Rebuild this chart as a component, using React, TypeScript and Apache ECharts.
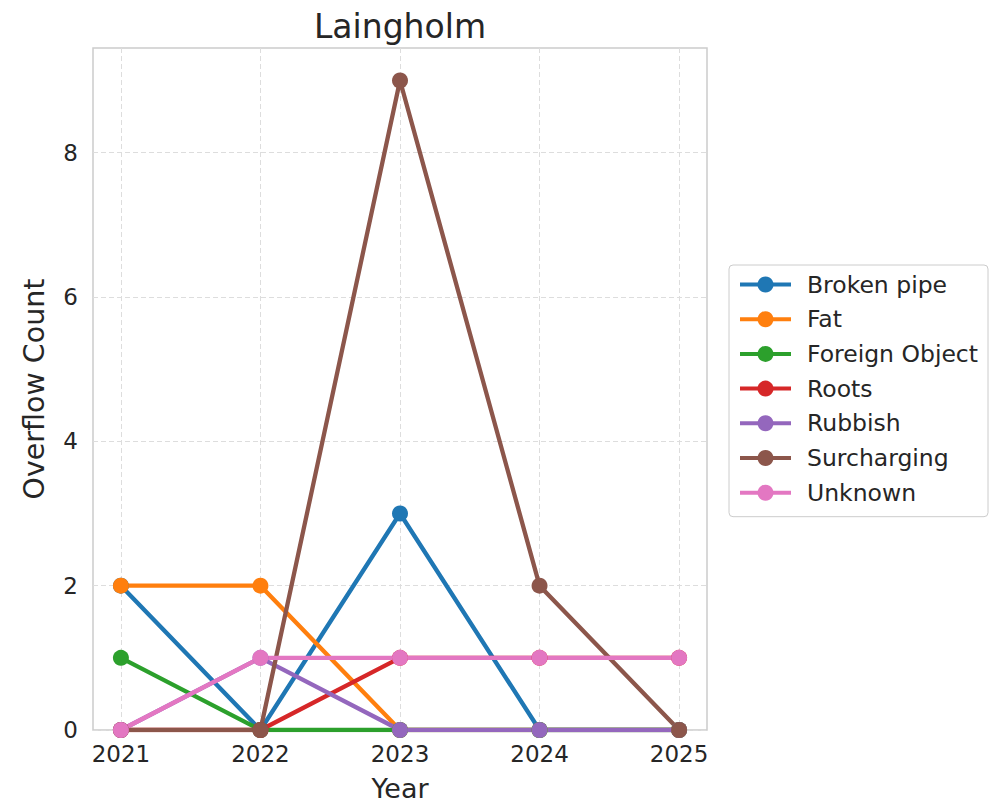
import React, { useEffect, useRef } from 'react';
import * as echarts from 'echarts';

const title = 'Laingholm';
const xName = 'Year';
const yName = 'Overflow Count';
const years = [2021, 2022, 2023, 2024, 2025];
const yTicks = [0, 2, 4, 6, 8];
const seriesNames = ['Broken pipe', 'Fat', 'Foreign Object', 'Roots', 'Rubbish', 'Surcharging', 'Unknown'];
const brokenPipe = [2, 0, 3, 0, 0];
const fat = [2, 2, 0, 0, 0];
const foreignObject = [1, 0, 0, 0, 0];
const roots = [0, 0, 1, 1, 1];
const rubbish = [0, 1, 0, 0, 0];
const surcharging = [0, 0, 9, 2, 0];
const unknown = [0, 1, 1, 1, 1];
const seriesValues = [brokenPipe, fat, foreignObject, roots, rubbish, surcharging, unknown];
const colors = ['#1f77b4', '#ff7f0e', '#2ca02c', '#d62728', '#9467bd', '#8c564b', '#e377c2'];

const FONT = '"DejaVu Sans", sans-serif';
const TEXT = '#262626';

export default function App() {
  const ref = useRef<HTMLDivElement>(null);
  useEffect(() => {
    if (!ref.current) return;
    const chart = echarts.init(ref.current, undefined, { renderer: 'svg' });
    const series = seriesNames.map((name, k) => ({
      name,
      type: 'line',
      data: years.map((y, i) => [y, seriesValues[k][i]]),
      symbol: 'circle',
      symbolSize: 16,
      showSymbol: true,
      color: colors[k],
      lineStyle: { width: 4.3, color: colors[k] },
      itemStyle: { color: colors[k] },
      emphasis: { disabled: true },
      clip: true,
    }));
    chart.setOption({
      animation: false,
      backgroundColor: '#ffffff',
      textStyle: { fontFamily: FONT, color: TEXT },
      graphic: [
        {
          type: 'text',
          x: 400,
          y: 26,
          style: {
            text: title,
            fontSize: 33,
            fontFamily: FONT,
            fill: TEXT,
            textAlign: 'center',
            textVerticalAlign: 'middle',
          },
        },
      ],
      grid: {
        left: 93,
        right: 285,
        top: 48,
        bottom: 82,
        show: true,
        borderColor: '#cccccc',
        borderWidth: 1.5,
        backgroundColor: 'transparent',
      },
      legend: {
        orient: 'vertical',
        left: 729,
        top: 265,
        data: seriesNames,
        itemWidth: 51,
        itemHeight: 20,
        itemGap: 10.7,
        padding: [7.5, 10, 12, 9],
        backgroundColor: '#ffffff',
        borderColor: '#cccccc',
        borderWidth: 1,
        borderRadius: 4,
        lineStyle: { width: 4 },
        textStyle: {
          fontSize: 23.5,
          fontFamily: FONT,
          color: TEXT,
          padding: [0, 0, 0, 11],
        },
      },
      xAxis: {
        type: 'value',
        min: 2020.8,
        max: 2025.2,
        name: xName,
        nameLocation: 'middle',
        nameGap: 45,
        nameTextStyle: { fontSize: 27, fontFamily: FONT, color: TEXT },
        axisLine: { show: false },
        axisTick: { show: false, customValues: years },
        axisLabel: {
          customValues: years,
          fontSize: 23,
          fontFamily: FONT,
          color: TEXT,
          margin: 12,
          formatter: (v: number) => String(v),
        },
        splitLine: { show: true, lineStyle: { color: '#dddddd', width: 1, type: [5, 3] } },
      },
      yAxis: {
        type: 'value',
        min: 0,
        max: 9.45,
        name: yName,
        nameLocation: 'middle',
        nameGap: 44,
        nameRotate: 90,
        nameTextStyle: { fontSize: 28.5, fontFamily: FONT, color: TEXT },
        axisLine: { show: false },
        axisTick: { show: false, customValues: yTicks },
        axisLabel: {
          customValues: yTicks,
          fontSize: 23,
          fontFamily: FONT,
          color: TEXT,
          margin: 15,
        },
        splitLine: { show: true, lineStyle: { color: '#dddddd', width: 1, type: [5, 3] } },
      },
      series,
    });
    return () => chart.dispose();
  }, []);
  return (
    <div
      ref={ref}
      style={{ position: 'fixed', left: 0, top: 0, width: 992, height: 812 }}
    />
  );
}
